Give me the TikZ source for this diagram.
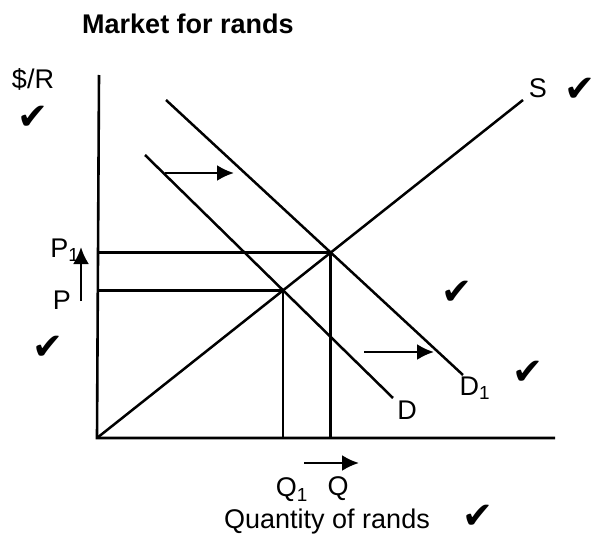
\documentclass[tikz,border=0pt]{standalone}
\usepackage{fontspec}
\setmainfont{Liberation Sans}
\newfontfamily\tickfont{DejaVu Sans}
\usetikzlibrary{arrows.meta,positioning}

\begin{document}
\begin{tikzpicture}[
    x=1pt, y=-1pt,
    >={Latex[length=17pt,width=16pt]},
    every node/.style={font=\fontsize{27}{32}\selectfont, inner sep=0pt},
    axis/.style={line width=2.6pt},
    curve/.style={line width=2.5pt},
    guide/.style={line width=2.5pt},
    shiftarrow/.style={->, line width=2.5pt},
    tickmark/.style={font=\tickfont\fontsize{37}{44}\selectfont},
]
\useasboundingbox (0,0) rectangle (598,543);

% --- Title ---
\node[font=\bfseries\fontsize{27}{32}\selectfont] (title) at (188,24) {Market for rands};

% --- Axes ---
\coordinate (origin) at (97,438);
\coordinate (ytop) at (99,75);
\coordinate (xend) at (555,438);
\draw[axis] (ytop) -- (origin) -- (xend);

% --- Supply and the two demand curves ---
\coordinate (stop) at (523,100);
\coordinate (dtop) at (145,155);
\coordinate (dbot) at (393,398);
\coordinate (donetop) at (166,100);
\coordinate (donebot) at (463,375);
\draw[curve] (origin) -- (stop);
\draw[curve] (dtop) -- (dbot);
\draw[curve] (donetop) -- (donebot);

% --- Equilibria ---
\coordinate (eq) at (intersection of origin--stop and dtop--dbot);
\coordinate (eqone) at (intersection of origin--stop and donetop--donebot);
\draw[guide] (eq -| origin) -- (eq) -- (eq |- origin);
\draw[guide] (eqone -| origin) -- (eqone) -- (eqone |- origin);

% --- Shift arrows ---
\coordinate (upfrom) at (81,301);
\coordinate (upto) at (81,247);
\draw[shiftarrow] (upfrom) -- (upto);
\coordinate (topfrom) at (165,173);
\coordinate (topto) at (234,173);
\draw[shiftarrow] (topfrom) -- (topto);
\coordinate (midfrom) at (364,352);
\coordinate (midto) at (434,352);
\draw[shiftarrow] (midfrom) -- (midto);
\coordinate (qfrom) at (304,463);
\coordinate (qto) at (359,463);
\draw[shiftarrow] (qfrom) -- (qto);

% --- Labels ---
\node (yname) at (33,79) {\$/R};
\node (xname) at (327,522) {Quantity of rands};
\node (slabel) at (538,88) {S};
\node (dlabel) at (407,410) {D};
\node (donelabel) at (475,388) {D\textsubscript{1}};
\node (plabel) at (62,300) {P};
\node (ponelabel) at (65,250) {P\textsubscript{1}};
\node (qonelabel) at (292,490) {Q\textsubscript{1}};
\node (qlabel) at (338,489) {Q};

% --- Marks ---
\node[tickmark] (tick1) at (33,118) {✔};
\node[tickmark] (tick2) at (48,348) {✔};
\node[tickmark] (tick3) at (580,90) {✔};
\node[tickmark] (tick4) at (457,293) {✔};
\node[tickmark] (tick5) at (528,373) {✔};
\node[tickmark] (tick6) at (478,517) {✔};
\end{tikzpicture}
\end{document}
